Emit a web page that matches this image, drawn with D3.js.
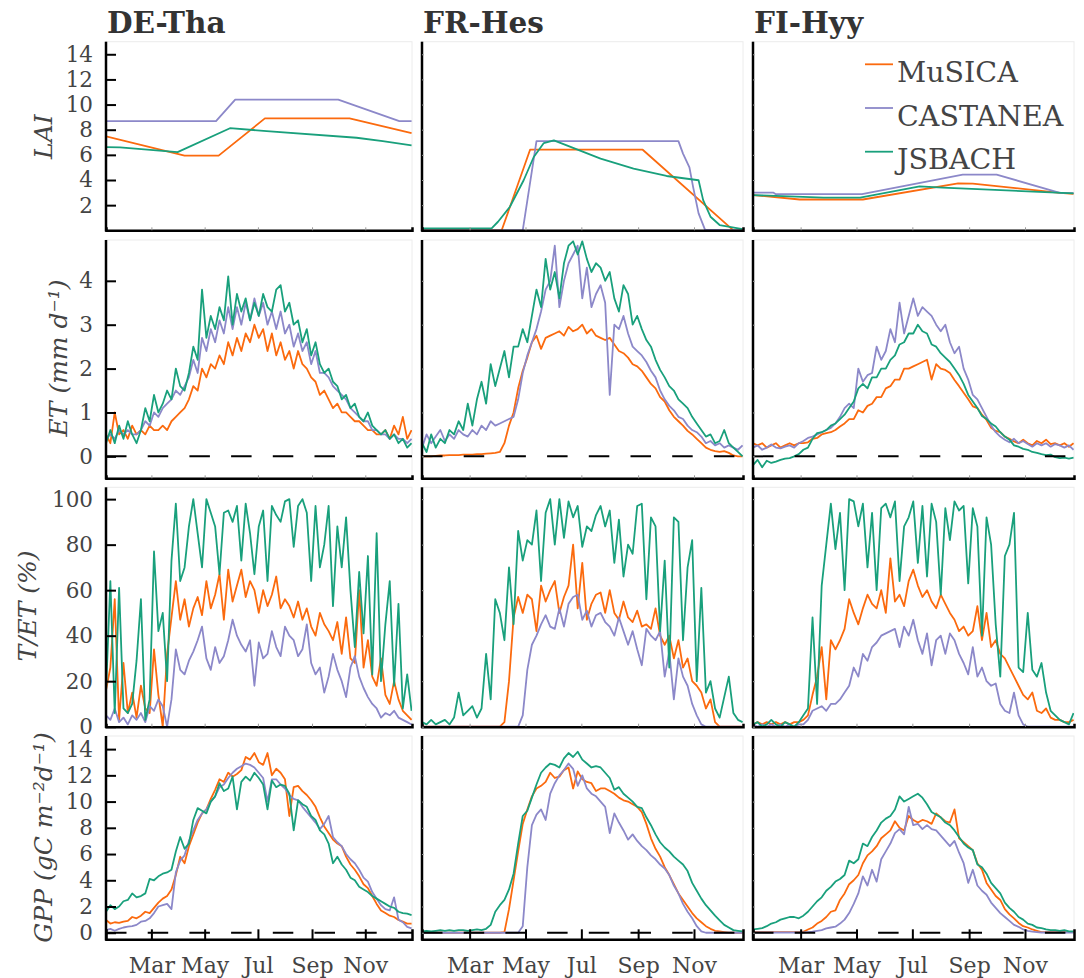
<!DOCTYPE html>
<html>
<head>
<meta charset="utf-8">
<script src="https://cdn.jsdelivr.net/npm/d3@7"></script>
<style>
body { margin: 0; background: #fff; }
svg text { font-family: "DejaVu Serif", serif; }
</style>
</head>
<body>
<svg id="chart" width="1084" height="978"></svg>
<script>
// day-of-year grid the daily series were read on (every 5 days)
var days = d3.range(7, 358, 5);

var sites = ['DE-Tha', 'FR-Hes', 'FI-Hyy'];
var models = ['MuSICA', 'CASTANEA', 'JSBACH'];
var monthLabels = ['Mar', 'May', 'Jul', 'Sep', 'Nov'];
var laiTicks = [2, 4, 6, 8, 10, 12, 14];
var etTicks = [0, 1, 2, 3, 4];
var tetTicks = [0, 20, 40, 60, 80, 100];
var gppTicks = [0, 2, 4, 6, 8, 10, 12, 14];

// LAI: [day, value] break points
var laiDeMusica = [[7, 7.47], [97, 5.94], [136, 5.94], [189, 8.9], [286, 8.9], [357, 7.73]];
var laiDeCastanea = [[7, 8.68], [133, 8.68], [155, 10.4], [273, 10.4], [343, 8.68], [357, 8.68]];
var laiDeJsbach = [[7, 6.62], [23, 6.6], [89, 6.22], [149, 8.12], [191, 7.89], [294, 7.36], [324, 7.1], [357, 6.75]];
var laiFrMusica = [[7, 0], [94, 0], [125, 6.41], [248, 6.41], [347, 0], [357, 0]];
var laiFrCastanea = [[7, 0], [117, 0], [132, 7.09], [287, 7.09], [292, 6.1], [299, 5.0], [303, 3.45], [309, 1.35], [316, 0.06], [357, 0]];
var laiFrJsbach = [[7, 0.16], [83, 0.16], [90, 0.68], [103, 1.87], [118, 3.98], [129, 5.83], [140, 6.94], [151, 7.15], [165, 6.75], [202, 5.7], [238, 4.9], [274, 4.32], [309, 3.98], [314, 2.4], [322, 1.08], [332, 0.42], [357, 0.1]];
var laiFiMusica = [[7, 2.8], [58, 2.45], [127, 2.45], [231, 3.74], [247, 3.72], [342, 2.98], [357, 2.9]];
var laiFiCastanea = [[7, 3.0], [29, 3.0], [32, 2.87], [126, 2.87], [236, 4.43], [273, 4.43], [342, 2.98], [357, 2.95]];
var laiFiJsbach = [[7, 2.8], [84, 2.6], [124, 2.6], [189, 3.5], [214, 3.4], [357, 2.93]];

// ET (mm/d) on the days grid
var etDeMusica = [0.5,0.3,1.0,0.5,0.6,0.4,0.7,0.5,0.6,0.5, 0.7,0.6,0.6,0.7,0.6,0.8,0.9,1.0,1.1,1.3, 1.6,1.5,2.0,1.8,2.1,2.0,2.3,2.1,2.6,2.3, 2.7,2.4,2.8,2.6,3.0,2.7,2.9,2.4,2.8,2.3, 2.6,2.2,2.4,2.0,2.4,2.1,2.0,1.8,1.7,1.4, 1.5,1.3,1.1,1.2,1.0,1.0,0.9,0.8,0.8,0.7, 0.6,0.6,0.5,0.5,0.6,0.4,0.7,0.5,0.9,0.4, 0.6];
var etDeCastanea = [0.4,0.5,0.4,0.6,0.5,0.6,0.5,0.5,0.6,0.8, 0.7,1.0,0.9,1.1,1.2,1.3,1.5,1.4,1.6,1.8, 2.2,1.9,2.7,2.4,2.9,2.6,3.1,2.8,3.4,2.9, 3.4,3.0,3.5,3.1,3.6,3.2,3.5,3.0,3.3,2.9, 3.3,2.8,3.0,2.5,2.8,2.4,2.6,2.1,2.4,1.9, 1.9,1.8,1.6,1.5,1.4,1.3,1.1,1.0,0.9,0.8, 0.8,0.6,0.6,0.5,0.5,0.4,0.5,0.4,0.4,0.3, 0.4];
var etDeJsbach = [0.3,0.6,0.3,0.7,0.4,0.8,0.5,0.3,0.6,1.1, 0.8,1.4,1.0,1.2,1.5,1.3,2.0,1.6,1.5,1.9, 2.5,2.2,3.8,2.7,3.2,2.9,3.4,3.1,4.1,3.0, 3.7,3.3,3.6,3.1,3.5,3.2,3.7,3.4,3.3,3.8, 3.9,3.3,3.5,3.0,3.1,2.6,2.9,2.3,2.6,2.1, 1.9,2.0,1.7,1.6,1.3,1.4,1.1,1.2,0.9,0.8, 1.0,0.7,0.6,0.5,0.6,0.4,0.5,0.3,0.4,0.2, 0.3];
var etFrMusica = [0,0,0,0.01,0.02,0.02,0.03,0.03,0.03,0.04, 0.04,0.04,0.05,0.05,0.06,0.07,0.08,0.1,0.3,0.7, 1.0,1.55,1.95,2.25,2.6,2.75,2.45,2.7,2.75,2.8, 2.85,2.75,2.95,2.85,2.9,3.0,2.8,2.9,2.75,2.7, 2.65,2.7,2.55,2.4,2.35,2.25,2.1,2.05,1.95,1.8, 1.65,1.55,1.35,1.25,1.05,0.9,0.8,0.7,0.58,0.5, 0.4,0.3,0.2,0.15,0.12,0.1,0.12,0.08,0.02,0, 0];
var etFrCastanea = [0.2,0.5,0.3,0.45,0.6,0.35,0.5,0.4,0.6,0.5, 0.45,0.6,0.5,0.7,0.6,0.8,0.7,0.75,0.8,0.85, 0.9,1.3,1.9,2.3,2.6,2.9,3.3,3.8,4.0,4.8, 3.4,4.0,4.4,4.6,4.8,3.6,4.3,3.4,3.7,3.9, 3.5,1.4,3.0,2.9,3.2,2.8,2.5,2.4,2.3,2.15, 1.95,1.8,1.5,1.3,1.15,1.05,0.9,0.85,0.7,0.6, 0.55,0.45,0.3,0.35,0.25,0.3,0.2,0.25,0.2,0.15, 0.25];
var etFrJsbach = [0.3,0.1,0.5,0.2,0.4,0.3,0.6,0.5,0.8,0.6, 1.2,0.7,1.3,1.7,1.2,2.1,1.6,2.0,2.4,1.8, 2.5,2.5,2.9,2.6,3.2,3.8,3.4,4.5,3.8,4.2, 3.6,4.4,4.8,4.9,4.6,4.9,4.5,4.2,4.4,4.3, 4.0,4.2,3.6,3.3,3.9,3.7,3.0,3.2,2.9,2.65, 2.5,2.2,1.97,1.8,1.6,1.5,1.3,1.2,1.1,0.9, 0.75,0.6,0.45,0.5,0.3,0.35,0.6,0.3,0.2,0.1, 0.0];
var etFiMusica = [0.3,0.25,0.3,0.2,0.25,0.3,0.2,0.25,0.3,0.25, 0.3,0.3,0.32,0.4,0.42,0.5,0.53,0.55,0.6,0.68, 0.75,0.85,0.85,1.05,1.0,1.15,1.2,1.35,1.35,1.55, 1.6,1.75,1.75,2.0,2.0,2.05,2.1,2.15,2.2,1.75, 2.1,2.0,1.97,1.9,1.74,1.6,1.45,1.3,1.14,1.1, 0.95,0.83,0.65,0.58,0.55,0.45,0.4,0.34,0.3,0.38, 0.3,0.25,0.35,0.3,0.38,0.28,0.3,0.25,0.3,0.22, 0.3];
var etFiCastanea = [0.2,0.25,0.15,0.2,0.27,0.2,0.18,0.22,0.25,0.2, 0.3,0.35,0.42,0.45,0.5,0.55,0.6,0.65,0.75,0.9, 1.1,1.2,1.1,2.0,1.7,1.85,1.9,2.5,2.2,2.4, 2.9,2.6,3.5,2.8,3.2,3.6,3.2,3.4,3.3,3.2, 3.0,2.85,3.0,2.6,2.35,2.5,2.0,1.75,1.4,1.3, 1.1,0.9,0.7,0.55,0.45,0.38,0.32,0.4,0.3,0.35, 0.28,0.22,0.3,0.25,0.3,0.22,0.28,0.25,0.2,0.25, 0.15];
var etFiJsbach = [-0.2,-0.08,-0.25,-0.1,-0.15,-0.12,-0.08,-0.05,-0.04,0.0, 0.05,0.15,0.2,0.4,0.53,0.55,0.6,0.7,0.75,0.85, 0.95,1.1,1.25,1.55,1.65,1.55,1.8,1.8,2.0,2.0, 2.2,2.3,2.55,2.6,2.8,2.8,3.0,2.85,2.8,2.55, 2.5,2.35,2.25,2.15,2.0,1.85,1.65,1.4,1.25,1.1, 0.92,0.85,0.75,0.68,0.55,0.45,0.38,0.25,0.22,0.17, 0.15,0.1,0.08,0.05,0.03,0.04,-0.02,-0.04,-0.03,-0.05, -0.03];

// T/ET (%) on the days grid
var tetDeMusica = [16,26,56,3,28,6,15,4,18,8, 6,34,14,0,32,48,64,47,56,44, 52,57,49,64,52,58,67,47,69,55, 62,69,57,64,60,50,60,53,58,66, 52,56,53,48,55,47,52,44,40,50, 45,42,38,46,32,48,30,28,60,26, 38,22,18,30,14,10,20,12,7,5, 3];
var tetDeCastanea = [5,3,8,2,4,1,5,3,6,2, 9,7,12,9,0,12,34,25,23,29, 33,38,44,30,25,35,28,31,38,47, 40,36,33,38,18,37,30,32,42,35, 31,44,40,38,31,34,45,28,23,26, 15,22,32,25,20,13,26,31,22,17, 13,10,8,4,6,5,7,4,3,2, 1];
var tetDeJsbach = [15,64,6,61,8,6,10,29,56,3, 12,77,42,50,20,73,98,64,70,88, 100,85,70,100,94,88,67,94,95,90, 97,73,98,85,67,88,95,64,97,93, 90,99,100,79,97,100,94,64,97,70, 80,97,53,88,70,92,60,35,68,41, 75,23,85,20,45,64,18,54,8,23, 7];
var tetFrMusica = [0,0,0,0,0,0,0,0,0,0, 0,0,0,0,0,0,0,0,2,20, 48,57,50,58,56,42,62,55,60,64, 50,57,62,80,52,72,47,54,58,59, 50,60,50,47,55,48,46,51,44,45, 43,52,40,36,40,30,38,26,30,20, 18,15,8,12,2,0,0,0,0,0, 0];
var tetFrCastanea = [0,0,0,0,0,0,0,0,0,0, 0,0,0,0,0,0,0,0,0,0, 0,0,5,25,36,40,45,49,44,43, 52,44,54,57,58,47,51,44,49,50, 46,44,40,48,42,36,42,34,27,43, 40,38,42,22,33,12,30,22,18,10, 5,1,0,0,0,0,0,0,0,0, 0];
var tetFrJsbach = [2,1,3,1,2,3,1,4,15,5, 7,9,4,8,32,12,56,50,38,70, 45,86,73,82,80,95,64,94,100,80, 100,83,99,92,97,79,88,86,93,97, 88,95,72,91,66,80,76,97,98,56, 92,88,42,73,26,92,90,38,70,82, 20,61,15,20,8,4,13,22,6,3, 2];
var tetFiMusica = [1,2,1,2,1,2,1,2,1,2, 2,3,5,14,22,35,12,38,34,38, 43,56,50,45,52,58,54,52,60,50, 74,55,58,53,64,69,62,57,60,55, 52,58,54,50,47,42,44,40,42,53, 38,50,35,38,32,30,26,22,18,14, 12,15,7,6,8,4,3,3,2,2, 3];
var tetFiCastanea = [1,0,1,0,1,0,1,0,1,0, 1,1,3,7,8,9,7,10,10,12, 15,18,26,22,32,29,35,37,40,41, 42,43,35,44,40,47,38,32,41,27, 38,40,32,41,38,32,28,23,35,22, 26,20,18,19,10,7,6,15,5,1, 0,0,0,0,0,0,0,0,0,0, 0];
var tetFiJsbach = [1,2,0,1,3,1,0,2,1,0, 2,5,8,48,10,62,80,98,78,94, 60,100,99,88,98,70,94,60,96,98, 92,99,64,88,92,99,72,97,66,98, 90,58,96,82,99,95,97,63,96,88, 40,92,80,45,22,75,80,94,26,24, 50,25,22,28,15,7,5,3,2,1, 6];

// GPP (gC/m2/d) on the days grid
var gppDeMusica = [0.97,0.7,0.8,0.75,0.85,0.9,1.2,1.1,1.3,1.6, 1.5,1.9,2.3,2.6,2.8,3.3,4.4,5.8,5.3,6.6, 7.5,8.4,9.1,9.4,10.2,10.9,11.7,11.5,12.2,11.9, 12.1,12.4,13.4,13.2,13.7,13.0,12.8,13.7,12.0,12.5, 12.2,11.7,8.9,11.1,11.2,10.8,10.5,10.1,9.6,8.8, 8.1,7.6,7.1,6.8,6.6,5.8,5.2,4.8,4.3,3.7, 3.4,2.8,2.2,1.7,1.5,1.3,1.2,0.97,0.85,0.7, 0.7];
var gppDeCastanea = [0.2,0.3,0.15,0.3,0.4,0.46,0.5,0.6,0.84,0.9, 1.1,1.5,2.0,2.1,2.2,1.8,4.6,5.5,5.9,7.0, 7.8,8.6,9.1,9.4,10.0,10.4,11.1,11.3,11.8,12.2, 12.5,12.7,12.9,12.8,12.6,12.2,11.8,10.0,11.7,11.7, 11.3,11.0,10.5,10.2,10.1,9.6,9.2,8.8,8.4,7.9, 8.3,8.9,7.3,6.9,6.6,6.0,5.6,5.3,4.8,4.2, 3.9,3.1,2.6,2.1,1.8,1.7,2.7,1.0,0.8,0.45, 0.33];
var gppDeJsbach = [1.6,2.1,1.8,2.0,2.4,2.5,3.0,2.7,2.8,3.0, 4.1,4.0,4.3,4.5,4.6,4.8,6.2,7.3,6.4,6.8, 8.6,9.5,9.3,9.1,10.0,10.4,11.4,10.8,11.0,11.9, 9.4,11.5,11.9,11.6,12.2,11.8,11.3,9.4,11.6,11.1, 11.3,11.2,10.6,7.8,10.1,9.8,9.6,8.9,8.6,7.8, 7.5,6.8,5.3,5.8,5.2,4.8,4.2,4.0,3.5,3.3, 3.1,2.8,2.6,2.4,2.2,2.0,1.9,1.6,1.5,1.45, 1.35];
var gppFrMusica = [0,0,0,0,0,0,0,0,0,0, 0,0,0,0,0,0,0,0,0.05,1.8, 4.0,6.2,8.3,9.4,10.4,11.0,11.2,11.5,12.2,11.8, 11.9,12.4,12.6,11.0,12.3,11.7,11.5,11.4,10.8,11.0, 11.0,10.8,10.6,10.3,10.1,10.0,9.8,9.6,9.2,8.3, 7.2,6.4,5.8,5.0,4.4,3.7,3.0,2.5,2.0,1.5, 1.1,0.8,0.5,0.3,0.15,0.1,0.05,0,0,0, 0];
var gppFrCastanea = [0,0,0,0,0,0,0,0,0,0, 0,0,0,0,0,0,0,0,0,0, 0,0,0.5,5.0,8.2,9.0,9.4,8.6,10.6,11.4, 12.0,12.4,12.9,12.5,11.2,12.0,11.0,10.6,10.4,10.0, 9.6,7.6,9.1,8.4,7.8,7.1,7.5,7.0,6.6,6.3, 5.9,5.6,5.2,4.9,4.4,3.6,3.0,2.2,1.6,1.1, 0.5,0.1,0,0,0,0,0,0,0,0, 0];
var gppFrJsbach = [0.1,0.15,0.1,0.15,0.2,0.15,0.2,0.15,0.2,0.2, 0.15,0.2,0.25,0.2,0.3,0.6,1.6,2.1,2.5,3.3, 4.5,6.8,8.9,9.3,10.3,11.3,12.2,12.6,12.9,12.8, 12.6,13.3,13.7,13.4,13.8,13.2,12.9,12.6,12.7,12.6, 12.2,11.8,10.9,11.1,10.6,10.3,10.0,9.6,9.5,8.8, 8.2,7.5,6.9,6.5,6.2,5.8,5.5,5.2,4.7,3.8, 3.2,2.6,2.1,1.7,1.3,0.95,0.6,0.4,0.2,0.15, 0.1];
var gppFiMusica = [0.05,0.05,0.05,0.05,0.05,0.05,0.05,0.05,0.05,0.05, 0.05,0.08,0.25,0.4,0.7,0.9,1.2,1.6,1.7,2.5, 3.0,3.7,4.0,4.4,5.3,5.9,6.2,6.6,7.2,7.5, 7.8,8.5,8.0,7.8,8.9,8.6,8.4,8.6,8.5,8.3, 9.1,8.8,8.5,8.4,9.4,7.2,6.9,6.6,6.3,5.3, 4.8,3.8,3.3,2.8,2.5,1.8,1.4,1.1,0.75,0.5, 0.4,0.25,0.15,0.05,0.05,0.05,0.05,0.05,0.05,0.05, 0.05];
var gppFiCastanea = [0.02,0.02,0.02,0.02,0.02,0.02,0.02,0.02,0.02,0.02, 0.02,0.02,0.05,0.08,0.15,0.2,0.33,0.4,0.46,0.7, 1.0,1.5,2.2,3.0,4.3,3.6,4.8,3.9,5.6,6.2, 6.8,7.6,7.9,7.5,9.6,8.2,8.3,7.9,8.2,7.9, 7.8,7.4,7.0,6.6,7.0,6.1,5.3,3.8,4.8,3.6, 3.2,2.9,2.3,1.9,1.5,1.2,0.9,0.6,0.45,0.25, 0.15,0.08,0.05,0.02,0.02,0.02,0.02,0.02,0.02,0.02, 0.02];
var gppFiJsbach = [0.25,0.3,0.35,0.5,0.7,0.8,1.0,1.1,1.2,1.2, 1.1,1.3,1.6,2.0,2.4,2.7,3.2,3.5,3.9,4.1, 4.4,5.5,5.3,5.6,6.8,6.6,7.3,7.8,8.4,8.7, 8.9,9.4,10.4,10.0,10.2,10.4,10.6,10.3,9.8,9.2, 9.0,8.8,8.4,8.2,7.8,7.3,6.8,6.5,6.3,5.2, 5.0,4.5,3.8,3.4,3.0,2.3,1.9,1.6,1.2,1.0, 0.7,0.6,0.4,0.35,0.25,0.2,0.2,0.15,0.2,0.1, 0.1];

var modelColors = ['#fb6a0e', '#8c88c9', '#19a07c'];

function onGrid(values) {
	return values.map(function(v, i) { return [days[i], v]; });
}

// rows x sites x models
var panelSeries = [
	[[laiDeMusica, laiDeCastanea, laiDeJsbach], [laiFrMusica, laiFrCastanea, laiFrJsbach], [laiFiMusica, laiFiCastanea, laiFiJsbach]],
	[[etDeMusica, etDeCastanea, etDeJsbach].map(onGrid), [etFrMusica, etFrCastanea, etFrJsbach].map(onGrid), [etFiMusica, etFiCastanea, etFiJsbach].map(onGrid)],
	[[tetDeMusica, tetDeCastanea, tetDeJsbach].map(onGrid), [tetFrMusica, tetFrCastanea, tetFrJsbach].map(onGrid), [tetFiMusica, tetFiCastanea, tetFiJsbach].map(onGrid)],
	[[gppDeMusica, gppDeCastanea, gppDeJsbach].map(onGrid), [gppFrMusica, gppFrCastanea, gppFrJsbach].map(onGrid), [gppFiMusica, gppFiCastanea, gppFiJsbach].map(onGrid)]
];

var t0 = Date.UTC(2001, 0, 1);
function dayDate(d) { return new Date(t0 + d * 864e5); }
var monthTicks = monthLabels.map(function(m) { return d3.utcParse('%b %Y')(m + ' 2001'); });

var cols = [{x0: 106, x1: 412}, {x0: 422, x1: 743}, {x0: 753, x1: 1074}];
var rows = [
	{label: 'LAI', bottom: 230.3, top: 41.7, domain: [0, 15], ticks: laiTicks, zero: false, lx: 52, ly: 136.7},
	{label: 'ET (mm d\u207b\u00b9)', bottom: 478.3, top: 240, domain: [-0.5, 4.93], ticks: etTicks, zero: true, lx: 67, ly: 358},
	{label: 'T/ET (%)', bottom: 726.7, top: 487.3, domain: [0, 105.2], ticks: tetTicks, zero: false, lx: 36, ly: 606},
	{label: 'GPP (gC m\u207b\u00b2d\u207b\u00b9)', bottom: 939.3, top: 736, domain: [-0.5, 15], ticks: gppTicks, zero: true, lx: 52, ly: 837.5}
];

var svg = d3.select('#chart');
var defs = svg.append('defs');

rows.forEach(function(row, r) {
	cols.forEach(function(col, c) {
		drawPanel(row, r, col, c);
	});
	svg.append('text')
		.attr('transform', 'translate(' + row.lx + ',' + row.ly + ') rotate(-90)')
		.attr('text-anchor', 'middle').attr('font-style', 'italic').attr('font-size', 25).attr('fill', '#444')
		.text(row.label);
});

cols.forEach(function(col, c) {
	svg.append('text').attr('x', col.x0 + 1).attr('y', 32.7)
		.attr('font-weight', 'bold').attr('font-size', 29.5).attr('fill', '#333')
		.text(sites[c]);
});

drawLegend();

function drawPanel(row, r, col, c) {
	var x = d3.scaleUtc().domain([dayDate(7), dayDate(357.5)]).range([col.x0, col.x1]);
	var y = d3.scaleLinear().domain(row.domain).range([row.bottom, row.top]);
	var g = svg.append('g');

	g.append('rect').attr('x', col.x0).attr('y', row.top)
		.attr('width', col.x1 - col.x0).attr('height', row.bottom - row.top)
		.attr('fill', 'none').attr('stroke', '#ececec');

	var clipId = 'clip' + r + c;
	defs.append('clipPath').attr('id', clipId).append('rect')
		.attr('x', col.x0).attr('y', row.top).attr('width', col.x1 - col.x0).attr('height', row.bottom - row.top);

	var line = d3.line()
		.x(function(d) { return x(dayDate(d[0])); })
		.y(function(d) { return y(d[1]); });

	panelSeries[r][c].forEach(function(s, m) {
		g.append('path').datum(s).attr('d', line)
			.attr('clip-path', 'url(#' + clipId + ')')
			.attr('fill', 'none').attr('stroke', modelColors[m])
			.attr('stroke-width', 1.8).attr('stroke-linejoin', 'round');
	});

	if (row.zero) {
		g.append('line').attr('x1', col.x0).attr('x2', col.x1).attr('y1', y(0)).attr('y2', y(0))
			.attr('stroke', '#000').attr('stroke-width', 2).attr('stroke-dasharray', '20.5,21.2');
	}

	var last = r == rows.length - 1;
	var xAxis = d3.axisBottom(x).tickValues(monthTicks).tickSizeOuter(0)
		.tickSize(last ? -10 : -3).tickPadding(18)
		.tickFormat(last ? d3.utcFormat('%b') : '');
	var ax = g.append('g').attr('transform', 'translate(0,' + row.bottom + ')').call(xAxis)
		.attr('font-size', 22).attr('font-family', 'DejaVu Serif');
	ax.select('.domain').attr('stroke', '#000').attr('stroke-width', 2.5);
	ax.selectAll('.tick line').attr('stroke', last ? '#000' : '#999').attr('stroke-width', last ? 2 : 1);
	ax.selectAll('text').attr('fill', '#444');

	var first = c == 0;
	var yAxis = d3.axisLeft(y).tickValues(row.ticks).tickSizeOuter(0)
		.tickSize(first ? -10 : -2).tickPadding(13)
		.tickFormat(first ? d3.format('d') : '');
	var ay = g.append('g').attr('transform', 'translate(' + col.x0 + ',0)').call(yAxis)
		.attr('font-size', 21.5).attr('font-family', 'DejaVu Serif');
	ay.select('.domain').attr('stroke', '#000').attr('stroke-width', 2.5)
		.attr('d', 'M0,' + (row.bottom + 1.2) + 'V' + row.top);
	ay.selectAll('.tick line').attr('stroke', first ? '#000' : '#999').attr('stroke-width', first ? 2 : 1);
	ay.selectAll('text').attr('fill', '#444');
}

function drawLegend() {
	var lg = svg.append('g').attr('transform', 'translate(865,64.3)');
	models.forEach(function(name, m) {
		var row = lg.append('g').attr('transform', 'translate(0,' + (m * 43.7) + ')');
		row.append('line').attr('x1', 0).attr('x2', 28).attr('y1', 0).attr('y2', 0)
			.attr('stroke', modelColors[m]).attr('stroke-width', 1.8);
		row.append('text').attr('x', 32).attr('y', 17.6)
			.attr('font-size', 28.5).attr('fill', '#444').text(name);
	});
}
</script>
</body>
</html>
